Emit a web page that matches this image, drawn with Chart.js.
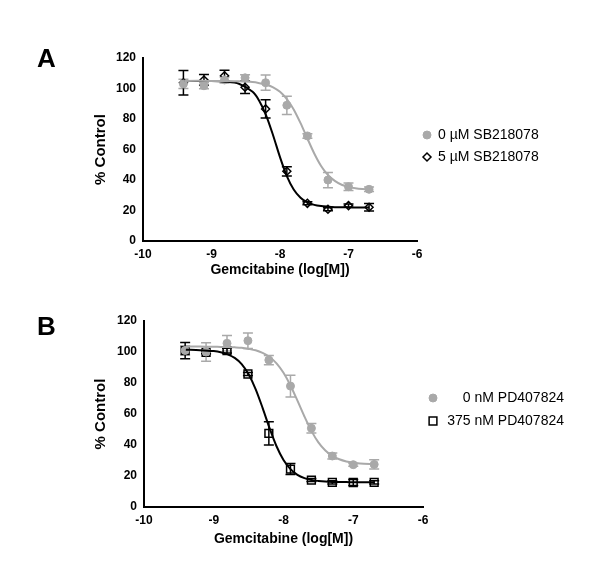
<!DOCTYPE html>
<html>
<head>
<meta charset="utf-8">
<script src="https://cdn.jsdelivr.net/npm/chart.js@4/dist/chart.umd.min.js"></script>
<style>
  body { margin: 0; background: #fff; }
  #wrap { position: relative; width: 600px; height: 575px; }
  canvas { position: absolute; left: 0; }
  .panel { position: absolute; left: 37px; font: bold 26px "Liberation Sans", Arial, sans-serif; }
</style>
</head>
<body>
<div id="wrap">
  <canvas id="chartA" width="600" height="290" style="top:0"></canvas>
  <canvas id="chartB" width="600" height="285" style="top:290px"></canvas>
  <div class="panel" style="top:43px">A</div>
  <div class="panel" style="top:311px">B</div>
</div>
<script>
// log[M] concentrations (2-fold dilutions)
const doses = [-9.41, -9.11, -8.81, -8.51, -8.21, -7.9, -7.6, -7.3, -7.0, -6.7];

// panel A
const labelsA = ['0 \u00b5M SB218078', '5 \u00b5M SB218078'];
const ctrlA = [103, 101.8, 105.6, 107, 103.8, 89, 68.9, 40, 35.6, 33.9];
const ctrlErrA = [3, 2, 2, 2, 5, 6, 1.5, 5, 2.5, 1.5];
const drugA = [103.8, 105.6, 108.4, 100.8, 86.6, 45.7, 24.7, 20.8, 23.2, 22.1];
const drugErrA = [8, 3.5, 3.5, 4, 6, 3, 1, 1, 1, 2.5];
// fitted curves
const fitXA = [-9.4, -9.0, -8.8, -8.6, -8.4, -8.3, -8.2, -8.1, -8.0, -7.9, -7.8, -7.7, -7.6, -7.5, -7.4, -7.3, -7.2, -7.1, -7.0, -6.9, -6.8, -6.7];
const ctrlFitA = [105, 105, 104.9, 104.7, 104.2, 103.5, 102.5, 100.8, 97.8, 93.1, 86.3, 77.3, 67.2, 57.4, 49.2, 43.3, 39.4, 36.9, 35.5, 34.6, 34.1, 33.9];
const drugFitA = [105, 104.9, 104.5, 103.1, 97.8, 91.7, 82.1, 69.2, 55, 42.6, 33.8, 28.4, 25.3, 23.7, 22.9, 22.5, 22.2, 22.1, 22.05, 22, 22, 22];

// panel B
const labelsB = ['0 nM PD407824', '375 nM PD407824'];
const ctrlB = [101, 100, 105.6, 107.3, 94.8, 78, 50.8, 32.9, 27.3, 27.5];
const ctrlErrB = [3, 6, 5, 5, 3, 7, 3, 2, 1, 3];
const drugB = [100.9, 99.8, 100.9, 85.8, 47.5, 24.5, 17.4, 15.9, 15.8, 15.9];
const drugErrB = [5.3, 1, 1.5, 1, 7.5, 3.5, 1, 1, 2, 1];
const fitXB = [-9.4, -9.2, -9.0, -8.9, -8.8, -8.7, -8.6, -8.5, -8.4, -8.3, -8.2, -8.1, -8.0, -7.9, -7.8, -7.7, -7.6, -7.5, -7.4, -7.3, -7.2, -7.1, -7.0, -6.9, -6.7];
const ctrlFitB = [103.5, 103.5, 103.4, 103.3, 103.2, 103, 102.7, 102, 101.1, 99.4, 96.8, 92.7, 86.6, 78.4, 68.6, 58.4, 49.1, 41.7, 36.5, 33, 30.8, 29.4, 28.6, 28.1, 27.7];
const drugFitB = [101.5, 101.2, 100.6, 99.9, 98.5, 96.2, 92.2, 85.6, 76.1, 64, 50.9, 39.2, 30.3, 24.4, 20.7, 18.6, 17.4, 16.8, 16.4, 16.2, 16.1, 16.05, 16, 16, 16];

const xTicks = [-10, -9, -8, -7, -6];
const yTicks = [0, 20, 40, 60, 80, 100, 120];

const GREY = '#a9a9a9';
Chart.defaults.font.family = '"Liberation Sans", Arial, sans-serif';
Chart.defaults.color = '#000';

const pts = (xs, ys) => xs.map((x, i) => ({ x: x, y: ys[i] }));

const errorBars = {
  id: 'errorBars',
  beforeDatasetsDraw(chart) {
    const ctx = chart.ctx, ys = chart.scales.y;
    chart.data.datasets.forEach((ds, di) => {
      if (!ds.errors) return;
      const meta = chart.getDatasetMeta(di);
      ctx.save();
      ctx.strokeStyle = ds.borderColor;
      ctx.lineWidth = 1.5;
      meta.data.forEach((p, i) => {
        const v = ds.data[i].y, e = ds.errors[i];
        const top = ys.getPixelForValue(v + e), bot = ys.getPixelForValue(v - e);
        ctx.beginPath();
        ctx.moveTo(p.x, top); ctx.lineTo(p.x, bot);
        ctx.moveTo(p.x - 5, top); ctx.lineTo(p.x + 5, top);
        ctx.moveTo(p.x - 5, bot); ctx.lineTo(p.x + 5, bot);
        ctx.stroke();
      });
      ctx.restore();
    });
  }
};

const sideLegend = {
  id: 'sideLegend',
  afterDraw(chart, args, opts) {
    const ctx = chart.ctx;
    ctx.save();
    ctx.font = '14px "Liberation Sans", Arial, sans-serif';
    ctx.textBaseline = 'middle';
    ctx.textAlign = opts.align;
    opts.items.forEach((it, i) => {
      const ds = chart.data.datasets[it];
      const y = opts.y + i * opts.gap;
      ctx.fillStyle = ds.pointBackgroundColor;
      ctx.strokeStyle = ds.pointBorderColor;
      ctx.lineWidth = ds.pointBorderWidth;
      Chart.helpers.drawPoint(ctx, { pointStyle: ds.pointStyle, radius: ds.pointRadius, borderWidth: ds.pointBorderWidth }, opts.markerX, y);
      ctx.fillStyle = '#000';
      ctx.fillText(ds.label, opts.textX, y);
    });
    ctx.restore();
  }
};

function makeChart(id, cfg) {
  return new Chart(document.getElementById(id), {
    type: 'scatter',
    data: {
      datasets: [
        { label: 'fit0', data: pts(cfg.fitX, cfg.ctrlFit), showLine: true, borderColor: GREY, borderWidth: 2, pointRadius: 0, tension: 0.3 },
        { label: 'fit1', data: pts(cfg.fitX, cfg.drugFit), showLine: true, borderColor: '#000', borderWidth: 2, pointRadius: 0, tension: 0.3 },
        { label: cfg.labels[0], data: pts(doses, cfg.ctrl), errors: cfg.ctrlErr, borderColor: GREY,
          pointStyle: 'circle', pointRadius: 4, pointBackgroundColor: GREY, pointBorderColor: GREY, pointBorderWidth: 1 },
        { label: cfg.labels[1], data: pts(doses, cfg.drug), errors: cfg.drugErr, borderColor: '#000',
          pointStyle: cfg.drugStyle, pointRadius: cfg.drugRadius, pointBackgroundColor: 'rgba(0,0,0,0)', pointBorderColor: '#000', pointBorderWidth: 1.5 }
      ]
    },
    options: {
      responsive: false,
      animation: false,
      layout: { padding: cfg.padding },
      plugins: {
        legend: { display: false },
        tooltip: { enabled: false },
        sideLegend: cfg.legend
      },
      scales: {
        x: {
          type: 'linear', min: -10, max: -6,
          afterBuildTicks: s => { s.ticks = xTicks.map(v => ({ value: v })); },
          afterFit: s => { s.height = cfg.xHeight; },
          grid: { display: false, drawTicks: true, tickLength: 5, tickWidth: 2, tickColor: '#000' },
          border: { display: true, color: '#000', width: 2 },
          ticks: { font: { size: 12, weight: 'bold' }, padding: 1, maxRotation: 0 },
          title: { display: true, text: 'Gemcitabine (log[M])', font: { size: 14, weight: 'bold' }, padding: { top: 2, bottom: 4 } }
        },
        y: {
          min: 0, max: 120,
          afterBuildTicks: s => { s.ticks = yTicks.map(v => ({ value: v })); },
          afterFit: s => { s.width = cfg.yWidth; },
          grid: { display: false, drawTicks: true, tickLength: 5, tickWidth: 2, tickColor: '#000' },
          border: { display: true, color: '#000', width: 2 },
          ticks: { font: { size: 12, weight: 'bold' }, padding: 2 },
          title: { display: true, text: '% Control', font: { size: 15, weight: 'bold' }, padding: 4 }
        }
      }
    },
    plugins: [errorBars, sideLegend]
  });
}

makeChart('chartA', {
  labels: labelsA, ctrl: ctrlA, ctrlErr: ctrlErrA, drug: drugA, drugErr: drugErrA,
  fitX: fitXA, ctrlFit: ctrlFitA, drugFit: drugFitA,
  drugStyle: 'rectRot', drugRadius: 4,
  padding: { left: 88, right: 183, top: 58, bottom: 7 }, yWidth: 55, xHeight: 42,
  legend: { items: [2, 3], markerX: 427, textX: 438, y: 135, gap: 22, align: 'left' }
});

makeChart('chartB', {
  labels: labelsB, ctrl: ctrlB, ctrlErr: ctrlErrB, drug: drugB, drugErr: drugErrB,
  fitX: fitXB, ctrlFit: ctrlFitB, drugFit: drugFitB,
  drugStyle: 'rect', drugRadius: 5.5,
  padding: { left: 88, right: 177, top: 31, bottom: 23 }, yWidth: 56, xHeight: 45,
  legend: { items: [2, 3], markerX: 433, textX: 564, y: 108, gap: 23, align: 'right' }
});
</script>
</body>
</html>
